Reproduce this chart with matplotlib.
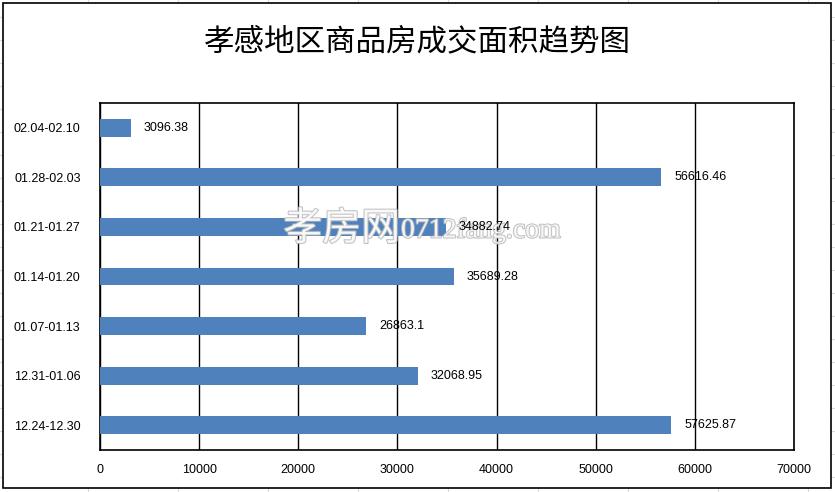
import matplotlib.pyplot as plt
import matplotlib.patheffects as pe
from matplotlib.patches import Rectangle
from matplotlib.lines import Line2D

plt.rcParams['font.family'] = ['Liberation Sans', 'Noto Sans CJK SC', 'DejaVu Sans']

# data, bottom to top
weeks = ['12.24-12.30', '12.31-01.06', '01.07-01.13', '01.14-01.20',
         '01.21-01.27', '01.28-02.03', '02.04-02.10']
areas = [57625.87, 32068.95, 26863.1, 35689.28, 34882.74, 56616.46, 3096.38]
x_ticks = [0, 10000, 20000, 30000, 40000, 50000, 60000, 70000]

W, H = 835, 492
fig = plt.figure(figsize=(W / 100, H / 100), dpi=100)

# faint spreadsheet cells behind the chart
for x in range(-2, W, 90):
    fig.add_artist(Line2D([x / W, x / W], [0, 1], color='#dadada', lw=0.8, zorder=0))
for y in range(17, H, 23):
    fig.add_artist(Line2D([0, 1], [1 - y / H, 1 - y / H], color='#dadada', lw=0.8, zorder=0))

# chart frame
fig.add_artist(Rectangle((3 / W, 1 - 488 / H), 828 / W, 485 / H, facecolor='white',
                         edgecolor='black', lw=1.2, zorder=1))

ax = fig.add_axes([100 / W, 1 - 450 / H, 694 / W, 347 / H], zorder=2)
ax.set_facecolor('white')

ax.barh(range(len(weeks)), areas, height=0.36, color='#4f81bd', zorder=3)

ax.set_xlim(0, 70000)
ax.set_ylim(-0.5, len(weeks) - 0.5)
ax.set_xticks(x_ticks)
ax.set_xticklabels([str(t) for t in x_ticks], fontsize=9)
ax.set_yticks(range(len(weeks)))
ax.set_yticklabels(weeks, fontsize=9)
ax.tick_params(length=0, pad=14)
ax.tick_params(axis='x', pad=10)
ax.grid(axis='x', color='black', lw=1, zorder=1)
for s in ax.spines.values():
    s.set_linewidth(1.2)

fig.text(0.5, 1 - 42 / H, '孝感地区商品房成交面积趋势图', ha='center', va='center',
         fontsize=22, family=['Noto Sans CJK SC'], zorder=5)

# watermark
wm = [pe.withStroke(linewidth=1.5, foreground='#b8b8b8')]
fig.text(400 / W, 1 - 229 / H, '孝房网', ha='right', va='center', fontsize=28,
         color='white', alpha=0.85, zorder=6, family=['Noto Sans CJK SC'], path_effects=wm)
fig.text(401 / W, 1 - 231 / H, '0712fang.com', ha='left', va='center', fontsize=20,
         color='white', alpha=0.85, zorder=6, family=['Liberation Serif'], path_effects=wm)

# value labels, above the watermark
for i, v in enumerate(areas):
    fig.text(0, 0, str(v), fontsize=9, va='center', ha='left', zorder=7,
             transform=ax.transData, position=(v + 1300, i))

fig.savefig('out.png', dpi=100)
